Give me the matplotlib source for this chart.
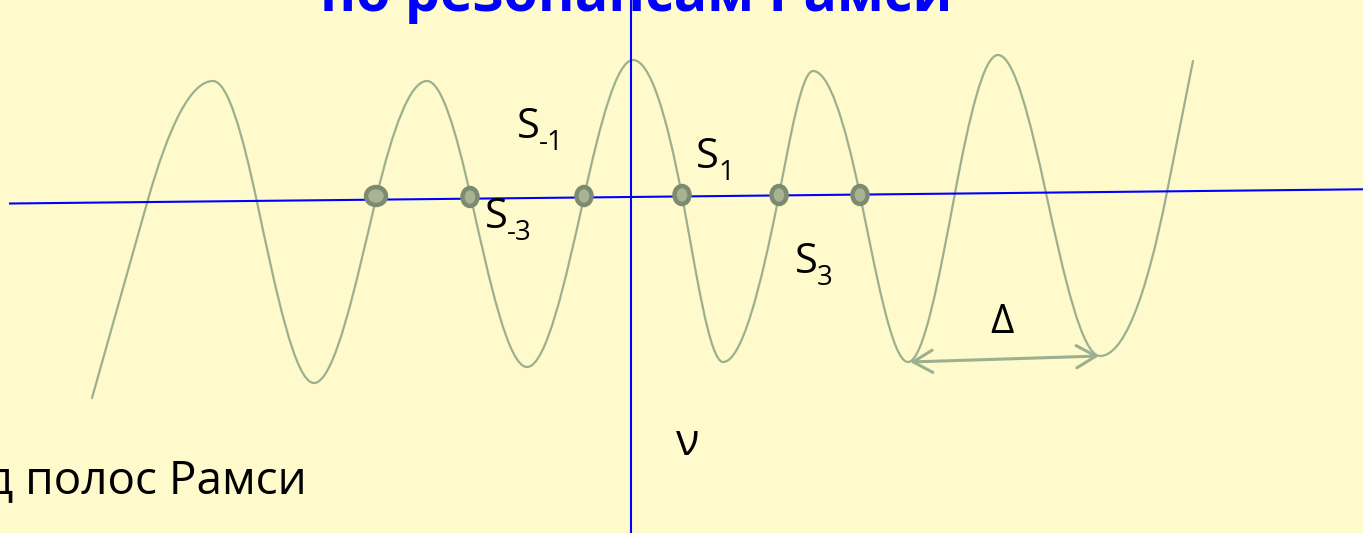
import numpy as np
import matplotlib
matplotlib.use("Agg")
import matplotlib.pyplot as plt
from matplotlib.path import Path
from matplotlib.patches import PathPatch, Ellipse, FancyArrowPatch, ArrowStyle

# picture is in slide pixels (x right, y down)
W, H = 1363, 533
BG = "#FFFACC"
CURVE_C = "#9CB08F"
DOT_DARK = "#7C8A70"
DOT_LIGHT = "#A7B493"
FONT = ["Open Sans", "DejaVu Sans"]

# Ramsey fringes: ends and extrema of the drawn curve
ext_x = [92, 213, 314, 427, 527, 633, 723, 813, 908, 998, 1100, 1193]
ext_y = [398, 81, 383, 81, 367, 60, 362, 71, 362, 55, 356, 61]
# where each half wave crosses the blue locking line
cross_x = [147, 257, 376, 471, 584, 682, 779, 860, 955, 1046, 1167]
cross_y = [203, 202, 199, 198, 197, 196, 195, 195, 193, 193, 192]

# marked resonances S-3 ... S3
dot_x = [376, 470, 584, 682, 779, 860]
dot_y = [196, 197, 196, 195, 195, 195]

# blue lines: tilted locking line and the nu axis
hline_x = [10, 1363]
hline_y = [203.5, 189.3]
vline_x = [631, 631]
vline_y = [0, 533]

# period arrow between two minima
delta_x = [910, 1099]
delta_y = [362, 356]


def fringe_path():
    # smooth hermite curve: flat at extrema, steep at the crossings
    px, py, m = [], [], []
    n = len(ext_x)
    for i in range(n):
        px.append(ext_x[i]); py.append(ext_y[i])
        if i == 0:
            m.append((cross_y[0] - ext_y[0]) / (cross_x[0] - ext_x[0]))
        elif i == n - 1:
            m.append((ext_y[-1] - cross_y[-1]) / (ext_x[-1] - cross_x[-1]))
        else:
            m.append(0.0)
        if i < n - 1:
            px.append(cross_x[i]); py.append(cross_y[i])
            if i == 0:
                m.append((cross_y[0] - ext_y[0]) / (cross_x[0] - ext_x[0]))
            elif i == n - 2:
                m.append((ext_y[-1] - cross_y[-1]) / (ext_x[-1] - cross_x[-1]))
            else:
                m.append(np.pi / 2 * (ext_y[i + 1] - ext_y[i]) / (ext_x[i + 1] - ext_x[i]))
    verts = [(px[0], py[0])]
    codes = [Path.MOVETO]
    for j in range(len(px) - 1):
        h = (px[j + 1] - px[j]) / 3.0
        verts += [(px[j] + h, py[j] + h * m[j]),
                  (px[j + 1] - h, py[j + 1] - h * m[j + 1]),
                  (px[j + 1], py[j + 1])]
        codes += [Path.CURVE4] * 3
    return Path(verts, codes)


fig = plt.figure(figsize=(W / 100, H / 100), dpi=100, facecolor=BG)
ax = fig.add_axes([0, 0, 1, 1])
ax.set_facecolor(BG)
ax.set_xlim(0, W)
ax.set_ylim(H, 0)
ax.axis("off")

ax.add_patch(PathPatch(fringe_path(), fill=False, edgecolor=CURVE_C,
                       lw=1.6, capstyle="round"))

ax.plot(hline_x, hline_y, color="#0000FF", lw=1.5, zorder=3)
ax.plot(vline_x, vline_y, color="#0000FF", lw=1.5, zorder=3)

for k, (x, y) in enumerate(zip(dot_x, dot_y)):
    w, h = (20, 18) if k == 0 else (15, 18)
    ax.add_patch(Ellipse((x, y), w, h, facecolor=DOT_LIGHT,
                         edgecolor=DOT_DARK, lw=3.2, zorder=4))

arr = FancyArrowPatch((delta_x[0], delta_y[0]), (delta_x[1], delta_y[1]),
                      arrowstyle=ArrowStyle("<->", head_length=1.4, head_width=0.8),
                      mutation_scale=10, color=CURVE_C, lw=2.2,
                      shrinkA=0, shrinkB=0, zorder=3)
ax.add_patch(arr)


def s_label(x, y, sub):
    ax.text(x, y, "S", fontsize=30, family=FONT, va="baseline", ha="left")
    ax.text(x + 22, y + 12, sub, fontsize=20, family=FONT, va="baseline", ha="left")


s_label(517, 138, "-1")
s_label(696, 168, "1")
s_label(485, 228, "-3")
s_label(795, 273, "3")

ax.text(1002, 333, "Δ", fontsize=29, family=FONT, va="baseline", ha="center")
ax.text(688, 455, "ν", fontsize=31, family=FONT, va="baseline", ha="center")
ax.text(307, 493, "д полос Рамси", fontsize=33, family=FONT,
        va="baseline", ha="right")
# title line of the slide, cut by the top edge as in the original
ax.text(636, 11, "по резонансам Рамси", fontsize=40, family=FONT,
        fontweight="bold", color="#0000FF", va="baseline", ha="center")

fig.savefig("out.png", dpi=100, facecolor=BG)
